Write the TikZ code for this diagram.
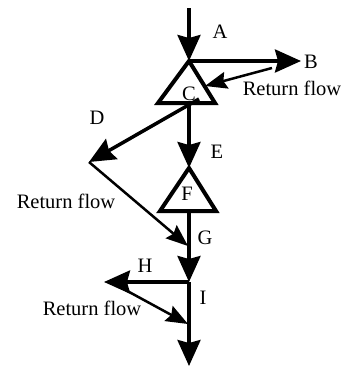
\documentclass[tikz,border=0pt]{standalone}
\usepackage{fontspec}
\setmainfont{Liberation Serif}
\usetikzlibrary{arrows.meta}
\begin{document}
\begin{tikzpicture}[x=1pt,y=-1pt,
  flow/.style={line width=3.5pt,-{Stealth[length=26pt,width=23pt,inset=3pt]}},
  ret/.style={line width=2.5pt,-{Stealth[length=22pt,width=17pt,inset=3pt]}},
  tri/.style={line width=4pt,line join=miter},
  lbl/.style={font=\fontsize{20.5}{24}\selectfont,inner sep=0pt}]
\useasboundingbox (0,0) rectangle (349,367);
% points
\coordinate (top) at (189,8);
\coordinate (Capex) at (189,61);
\coordinate (CL) at (158,103);
\coordinate (CR) at (215,103);
\coordinate (Cbase) at (189,103);
\coordinate (Btip) at (301,61);
\coordinate (R1s) at (272,68);
\coordinate (R1t) at (205,86);
\coordinate (Ds) at (199,99);
\coordinate (Dtip) at (89,162);
\coordinate (Fapex) at (189,168);
\coordinate (FL) at (160,211);
\coordinate (FR) at (216,211);
\coordinate (Fbase) at (189,211);
\coordinate (R2t) at (188,246);
\coordinate (Gtip) at (189,282);
\coordinate (Htip) at (104,282);
\coordinate (R3s) at (120,287);
\coordinate (R3t) at (188,324);
\coordinate (endtip) at (189,366);
% triangles
\draw[tri] (Capex) -- (CL) -- (CR) -- cycle;
\draw[tri] (Fapex) -- (FL) -- (FR) -- cycle;
% flows
\draw[flow] (top) -- (Capex);
\draw[flow] (Capex) -- (Btip);
\draw[ret] (R1s) -- (R1t);
\draw[flow] (Ds) -- (Dtip);
\draw[flow] (Cbase) -- (Fapex);
\draw[ret] (Dtip) -- (R2t);
\draw[flow] (Fbase) -- (Gtip);
\draw[flow] (Gtip) -- (Htip);
\draw[ret] (R3s) -- (R3t);
\draw[flow] (Gtip) -- (endtip);
% labels
\node[lbl] (lA) at (220,32) {A};
\node[lbl] (lB) at (311,62) {B};
\node[lbl] (lC) at (189,94) {C};
\node[lbl] (lRF1) at (292,88) {Return flow};
\node[lbl] (lD) at (97,118) {D};
\node[lbl] (lE) at (217,152) {E};
\node[lbl] (lF) at (187,194) {F};
\node[lbl] (lG) at (205,238) {G};
\node[lbl] (lRF2) at (66,201) {Return flow};
\node[lbl] (lH) at (145,266) {H};
\node[lbl] (lI) at (203,298) {I};
\node[lbl] (lRF3) at (92,308) {Return flow};
\end{tikzpicture}
\end{document}
